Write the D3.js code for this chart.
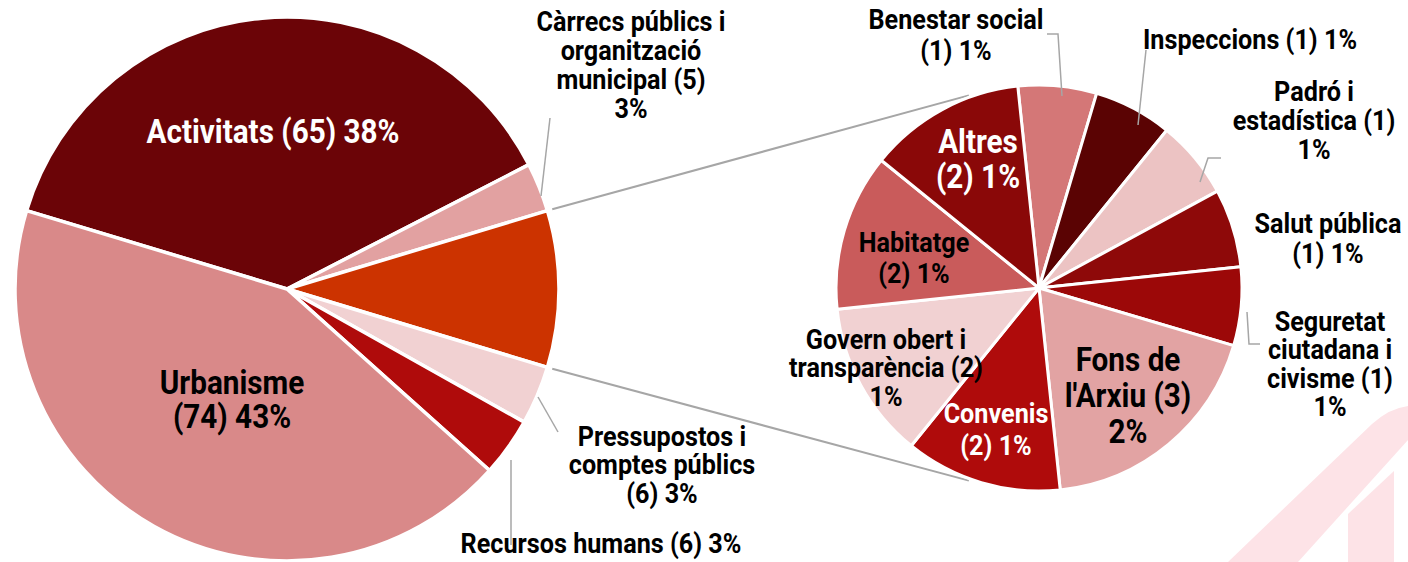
<!DOCTYPE html>
<html>
<head>
<meta charset="utf-8">
<script src="https://cdn.jsdelivr.net/npm/d3@7"></script>
<style>
	body { margin: 0; background: #fff; }
	text { font-family: Roboto, "Noto Sans", sans-serif; font-weight: bold; }
</style>
</head>
<body>
<div id="chart"></div>
<script>

// main pie, the "Resta" slice is broken out into the second pie
var main_names= ["Activitats", "Càrrecs públics i organització municipal", "Resta", "Pressupostos i comptes públics", "Recursos humans", "Urbanisme"];
var main_values= [65, 5, 16, 6, 6, 74];
var main_colors= ["#6b0407", "#e2a1a1", "#cc3300", "#f1d1d2", "#af0b0b", "#d98989"];
var main_text= [["Activitats (65) 38%"], ["Càrrecs públics i", "organització", "municipal (5)", "3%"], [], ["Pressupostos i", "comptes públics", "(6) 3%"], ["Recursos humans (6) 3%"], ["Urbanisme", "(74) 43%"]];

// second pie
var sub_names= ["Benestar social", "Inspeccions", "Padró i estadística", "Salut pública", "Seguretat ciutadana i civisme", "Fons de l'Arxiu", "Convenis", "Govern obert i transparència", "Habitatge", "Altres"];
var sub_values= [1, 1, 1, 1, 1, 3, 2, 2, 2, 2];
var sub_colors= ["#d47777", "#5a0303", "#ecc3c3", "#8e0909", "#9c0808", "#e2a3a3", "#af0b0b", "#f1d1d2", "#c95b5b", "#8a0808"];
var sub_text= [["Benestar social", "(1) 1%"], ["Inspeccions (1) 1%"], ["Padró i", "estadística (1)", "1%"], ["Salut pública", "(1) 1%"], ["Seguretat", "ciutadana i", "civisme (1)", "1%"], ["Fons de", "l'Arxiu (3)", "2%"], ["Convenis", "(2) 1%"], ["Govern obert i", "transparència (2)", "1%"], ["Habitatge", "(2) 1%"], ["Altres", "(2) 1%"]];

// layout
var width= 1408, height= 562;
var c1= [287, 289], r1= 272;
var c2= [1039, 288], r2= 203;
var deg= Math.PI/ 180;
var squeeze= 0.9;

var main_lab= [
	{x: 273, y: 143, size: 33, fill: "#fff", lh: 34},
	{x: 631, y: 31, size: 28, fill: "#000", lh: 29},
	null,
	{x: 662, y: 446, size: 28, fill: "#000", lh: 28.5},
	{x: 601, y: 553, size: 28, fill: "#000", lh: 29},
	{x: 232, y: 394, size: 33, fill: "#000", lh: 34}
];
var sub_lab= [
	{x: 956, y: 29, size: 28, fill: "#000", lh: 31},
	{x: 1250, y: 49, size: 28, fill: "#000", lh: 29},
	{x: 1314, y: 101, size: 28, fill: "#000", lh: 29},
	{x: 1328, y: 233, size: 28, fill: "#000", lh: 30},
	{x: 1330, y: 331, size: 28, fill: "#000", lh: 28.5},
	{x: 1128, y: 371, size: 33, fill: "#000", lh: 36},
	{x: 996, y: 423, size: 28, fill: "#fff", lh: 32},
	{x: 886, y: 349, size: 28, fill: "#000", lh: 28.5},
	{x: 914, y: 252, size: 28, fill: "#000", lh: 31},
	{x: 978, y: 153, size: 33, fill: "#fff", lh: 35}
];

// leader lines (label to slice)
var leaders= [
	[[550, 118], [541, 196]],
	[[538, 397], [558, 432]],
	[[511, 460], [511, 545]],
	[[1047, 34], [1058, 34], [1062, 96]],
	[[1146, 50], [1138, 125]],
	[[1221, 158], [1208, 158], [1200, 182]],
	[[1247, 312], [1249, 344], [1260, 344]]
];

var svg= d3.select("#chart")
	.append("svg")
	.attr("width", width)
	.attr("height", height);

// watermark in the corner
var wm= svg.append("g").attr("fill", "#fde3e7");
wm.append("path").attr("d", "M1228,562 L1372,424 Q1390,408 1408,406 L1408,440 L1298,562 Z");
wm.append("path").attr("d", "M1348,562 L1348,514 L1394,471 L1394,562 Z");

var total= d3.sum(main_values);
var before= main_values[0]+ main_values[1]+ main_values[2]/ 2;
var start1= Math.PI/ 2- before/ total* 2* Math.PI;

var pie1= d3.pie().sort(null).value(function(d) { return d; })
	.startAngle(start1).endAngle(start1+ 2* Math.PI);
var arcs1= pie1(main_values);

var pie2= d3.pie().sort(null).value(function(d) { return d; })
	.startAngle(-6* deg).endAngle(-6* deg+ 2* Math.PI);
var arcs2= pie2(sub_values);

var arc1= d3.arc().innerRadius(0).outerRadius(r1);
var arc2= d3.arc().innerRadius(0).outerRadius(r2);

function pt(c, r, a) {
	return [c[0]+ r* Math.sin(a), c[1]- r* Math.cos(a)];
}

// connector lines between the pies
var rest= arcs1[2];
var conn= [
	[pt(c1, r1+ 5, rest.startAngle), pt(c2, r2+ 2, -20* deg)],
	[pt(c1, r1+ 5, rest.endAngle), pt(c2, r2+ 2, 200* deg)]
];
svg.selectAll(".conn").data(conn).enter()
	.append("line")
	.attr("x1", function(d) { return d[0][0]; })
	.attr("y1", function(d) { return d[0][1]; })
	.attr("x2", function(d) { return d[1][0]; })
	.attr("y2", function(d) { return d[1][1]; })
	.attr("stroke", "#a6a6a6")
	.attr("stroke-width", 2);

svg.append("g").attr("transform", "translate("+ c1[0]+ ","+ c1[1]+ ")")
	.selectAll("path").data(arcs1).enter()
	.append("path")
	.attr("d", arc1)
	.attr("fill", function(d, i) { return main_colors[i]; })
	.attr("stroke", "#fff")
	.attr("stroke-width", 3.5)
	.attr("stroke-linejoin", "round");

svg.append("g").attr("transform", "translate("+ c2[0]+ ","+ c2[1]+ ")")
	.selectAll("path").data(arcs2).enter()
	.append("path")
	.attr("d", arc2)
	.attr("fill", function(d, i) { return sub_colors[i]; })
	.attr("stroke", "#fff")
	.attr("stroke-width", 3)
	.attr("stroke-linejoin", "round");

var line= d3.line();
svg.selectAll(".lead").data(leaders).enter()
	.append("path")
	.attr("d", line)
	.attr("fill", "none")
	.attr("stroke", "#a6a6a6")
	.attr("stroke-width", 1.5);

function add_labels(texts, pos) {
	for (var i= 0; i< texts.length; i++) {
		if (!pos[i]) continue;
		var p= pos[i];
		var t= svg.append("text")
			.attr("transform", "translate("+ p.x+ ",0) scale("+ squeeze+ ",1)")
			.attr("text-anchor", "middle")
			.attr("font-size", p.size)
			.attr("fill", p.fill);
		texts[i].forEach(function(s, k) {
			t.append("tspan")
				.attr("x", 0)
				.attr("y", p.y+ k* p.lh)
				.text(s);
		});
	}
}

add_labels(main_text, main_lab);
add_labels(sub_text, sub_lab);

</script>
</body>
</html>
